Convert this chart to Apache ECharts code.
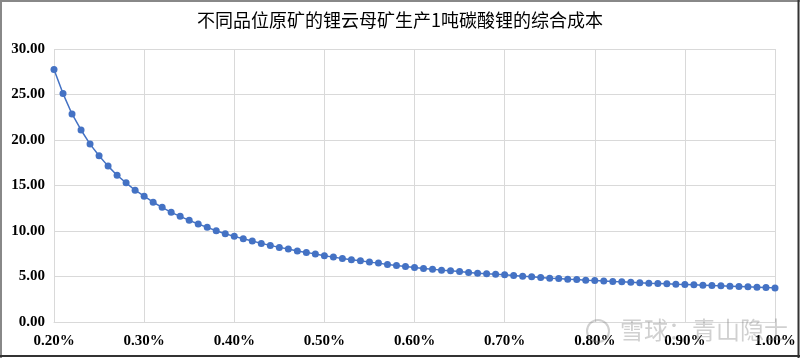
<!DOCTYPE html>
<html>
<head>
<meta charset="utf-8">
<script src="https://cdn.jsdelivr.net/npm/echarts@6/dist/echarts.min.js"></script>
<style>
html,body{margin:0;padding:0;background:#fff;}
#chart{width:800px;height:358px;}
</style>
</head>
<body>
<div id="chart"></div>
<script>
var titleText = '不同品位原矿的锂云母矿生产1吨碳酸锂的综合成本';
var grades = ['0.20%','0.21%','0.22%','0.23%','0.24%','0.25%','0.26%','0.27%','0.28%','0.29%',
'0.30%','0.31%','0.32%','0.33%','0.34%','0.35%','0.36%','0.37%','0.38%','0.39%',
'0.40%','0.41%','0.42%','0.43%','0.44%','0.45%','0.46%','0.47%','0.48%','0.49%',
'0.50%','0.51%','0.52%','0.53%','0.54%','0.55%','0.56%','0.57%','0.58%','0.59%',
'0.60%','0.61%','0.62%','0.63%','0.64%','0.65%','0.66%','0.67%','0.68%','0.69%',
'0.70%','0.71%','0.72%','0.73%','0.74%','0.75%','0.76%','0.77%','0.78%','0.79%',
'0.80%','0.81%','0.82%','0.83%','0.84%','0.85%','0.86%','0.87%','0.88%','0.89%',
'0.90%','0.91%','0.92%','0.93%','0.94%','0.95%','0.96%','0.97%','0.98%','0.99%',
'1.00%'];
var costs = [27.75,25.1,22.86,21.1,19.55,18.27,17.13,16.13,15.29,14.48,
13.82,13.16,12.6,12.05,11.61,11.17,10.77,10.4,10.03,9.7,
9.41,9.15,8.9,8.64,8.42,8.2,8.02,7.8,7.65,7.47,
7.28,7.13,6.98,6.84,6.73,6.58,6.47,6.32,6.21,6.1,
5.99,5.88,5.81,5.7,5.62,5.55,5.44,5.37,5.29,5.24,
5.18,5.1,5.04,4.96,4.88,4.82,4.77,4.71,4.66,4.6,
4.55,4.5,4.45,4.41,4.37,4.3,4.26,4.23,4.19,4.15,
4.12,4.08,4.04,4.0,3.97,3.94,3.9,3.86,3.83,3.79,
3.75];
var watermarkText = '雪球：青山隐士';

var chart = echarts.init(document.getElementById('chart'), null, {renderer:'canvas'});
var gridColor = '#d9d9d9';
var labelFont = {fontFamily:'Liberation Serif', fontSize:15, fontWeight:'bold', color:'#000'};
chart.setOption({
  animation:false,
  backgroundColor:'#fff',
  title:{
    text:titleText, left:'center', top:6,
    textStyle:{fontFamily:'Noto Sans CJK SC', fontSize:18, fontWeight:'normal', color:'#000'}
  },
  grid:{left:54, right:25, top:49, bottom:36, containLabel:false},
  xAxis:{
    type:'category', data:grades, boundaryGap:false,
    axisLine:{show:true, lineStyle:{color:gridColor}},
    axisTick:{show:false},
    axisLabel:Object.assign({interval:9, margin:12}, labelFont),
    splitLine:{show:true, interval:9, lineStyle:{color:gridColor, width:1}}
  },
  yAxis:{
    type:'value', min:0, max:30, interval:5,
    axisLine:{show:false}, axisTick:{show:false},
    axisLabel:Object.assign({margin:9, formatter:function(v){return v.toFixed(2);}}, labelFont),
    splitLine:{show:true, lineStyle:{color:gridColor, width:1}}
  },
  series:[{
    type:'line', data:costs,
    symbol:'circle', symbolSize:7, showSymbol:true, showAllSymbol:true,
    lineStyle:{color:'#4472C4', width:1.5},
    itemStyle:{color:'#4472C4'}
  }],
  graphic:[
    {type:'text', left:620, top:318, z:100, style:{text:watermarkText, fontFamily:'Noto Sans CJK SC', fontSize:24, fill:'rgba(120,120,120,0.35)'}},
    {type:'circle', shape:{cx:598, cy:331, r:11}, z:100, style:{fill:'none', stroke:'rgba(120,120,120,0.35)', lineWidth:2}},
    {type:'line', shape:{x1:0, y1:1, x2:800, y2:1}, style:{stroke:'#888', lineWidth:2}},
    {type:'line', shape:{x1:1, y1:0, x2:1, y2:358}, style:{stroke:'#888', lineWidth:2}},
    {type:'line', shape:{x1:798.5, y1:0, x2:798.5, y2:358}, style:{stroke:'#333', lineWidth:2}},
    {type:'line', shape:{x1:0, y1:356, x2:800, y2:356}, style:{stroke:'#333', lineWidth:2}}
  ]
});
</script>
</body>
</html>
